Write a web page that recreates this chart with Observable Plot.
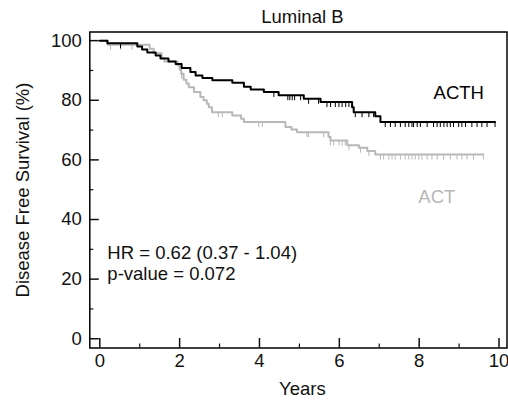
<!DOCTYPE html>
<html><head><meta charset="utf-8">
<script src="https://cdn.jsdelivr.net/npm/d3@7"></script>
<script src="https://cdn.jsdelivr.net/npm/@observablehq/plot@0.6"></script>
<style>body{margin:0;background:#fff;} svg{display:block}</style>
</head><body><div id="chart"></div>
<script>
const title = "Luminal B";
const xLabel = "Years";
const yLabel = "Disease Free Survival (%)";
const xTicks = [0, 2, 4, 6, 8, 10];
const xMinor = [1, 3, 5, 7, 9];
const yTicks = [0, 20, 40, 60, 80, 100];
const yMinor = [10, 30, 50, 70, 90];
const groups = ["ACTH", "ACT"];
const hrText = "HR = 0.62 (0.37 - 1.04)";
const pText = "p-value = 0.072";

// Kaplan-Meier steps (event times, survival % after the event)
const acthTimes = [0, 0.19, 0.94, 1.06, 1.19, 1.40, 1.52, 1.72, 1.90, 2.05, 2.27, 2.40, 2.57, 2.82, 3.32, 3.61, 3.78, 4.11, 4.48, 5.11, 5.53, 6.32, 6.36, 6.90, 7.03];
const acthSurv  = [100, 99.1, 98.0, 97.0, 96.0, 95.0, 94.0, 93.0, 92.2, 90.8, 89.5, 88.3, 87.5, 86.7, 85.9, 84.5, 83.6, 82.8, 81.7, 80.5, 79.4, 77.7, 76.0, 74.6, 72.7];
const acthEnd = 9.9;
const acthCensor = [0.52, 4.36, 4.71, 4.76, 4.82, 4.88, 5.03, 5.23, 5.48, 5.69, 5.78, 5.90, 5.99, 6.07, 6.16, 6.24, 6.40, 6.57, 6.74, 6.86, 7.15, 7.28, 7.40, 7.53, 7.65, 7.74, 7.82, 7.86, 7.95, 8.03, 8.20, 8.36, 8.45, 8.53, 8.62, 8.70, 8.78, 8.86, 8.99, 9.07, 9.16, 9.32, 9.45, 9.57, 9.70, 9.90];

const actTimes = [0, 0.20, 1.25, 1.35, 1.55, 1.62, 1.95, 2.00, 2.04, 2.10, 2.17, 2.23, 2.36, 2.52, 2.60, 2.68, 2.73, 2.81, 3.32, 3.54, 3.61, 4.65, 4.80, 4.94, 5.73, 5.78, 6.20, 6.49, 6.70, 6.90];
const actSurv  = [100, 98.6, 97.3, 95.8, 94.2, 93.0, 91.7, 90.2, 88.9, 86.9, 85.6, 84.4, 82.8, 81.1, 80.0, 78.8, 77.7, 76.0, 74.9, 73.8, 72.7, 71.0, 70.2, 69.3, 67.7, 66.5, 64.9, 64.1, 63.0, 61.8];
const actEnd = 9.61;
const actCensor = [0.27, 0.52, 0.81, 2.05, 2.97, 3.07, 3.98, 4.07, 5.19, 5.23, 5.61, 5.78, 5.86, 5.99, 6.07, 6.15, 6.24, 6.53, 6.74, 7.03, 7.11, 7.24, 7.32, 7.40, 7.53, 7.65, 7.74, 7.82, 7.90, 7.99, 8.07, 8.20, 8.32, 8.45, 8.61, 8.78, 8.95, 9.07, 9.20, 9.36, 9.61];

const colors = {ACTH: "#000000", ACT: "#b8b8b8"};

function stepLine(times, surv, end, g) {
  const pts = times.map((t, i) => ({t, s: surv[i], g}));
  pts.push({t: end, s: surv[surv.length - 1], g});
  return pts;
}
function survAt(times, surv, t) {
  let s = surv[0];
  for (let i = 0; i < times.length; i++) if (times[i] <= t) s = surv[i];
  return s;
}
const lineACTH = stepLine(acthTimes, acthSurv, acthEnd, "ACTH");
const lineACT = stepLine(actTimes, actSurv, actEnd, "ACT");
const censACTH = acthCensor.map(t => ({t, s: survAt(acthTimes, acthSurv, t)}));
const censACT = actCensor.map(t => ({t, s: survAt(actTimes, actSurv, t)}));

const tickDown = {draw(ctx) { ctx.moveTo(0, 0); ctx.lineTo(0, 5); }};

const plot = Plot.plot({
  width: 508,
  height: 402,
  marginLeft: 89.3,
  marginRight: 1.5,
  marginTop: 31.5,
  marginBottom: 54.5,
  style: {fontFamily: "'Liberation Sans', Arial, sans-serif", fontSize: "18.5px", color: "#111", background: "#fff"},
  x: {domain: [-0.25, 10.2], axis: null},
  y: {domain: [-3.1, 102.9], axis: null},
  marks: [
    Plot.axisX(xTicks, {anchor: "bottom", tickSize: -9.5, tickPadding: 15, strokeWidth: 1.5, label: null}),
    Plot.axisX(xMinor, {anchor: "bottom", tickSize: -4, text: null, strokeWidth: 1.2, label: null}),
    Plot.axisY(yTicks, {anchor: "left", tickSize: -9.5, tickPadding: 17.5, strokeWidth: 1.5, label: null}),
    Plot.axisY(yMinor, {anchor: "left", tickSize: -4, text: null, strokeWidth: 1.2, label: null}),
    Plot.line(lineACT, {x: "t", y: "s", curve: "step-after", stroke: colors.ACT, strokeWidth: 2}),
    Plot.dot(censACT, {x: "t", y: "s", symbol: tickDown, stroke: colors.ACT, fill: "none", strokeWidth: 1}),
    Plot.line(lineACTH, {x: "t", y: "s", curve: "step-after", stroke: colors.ACTH, strokeWidth: 2}),
    Plot.dot(censACTH, {x: "t", y: "s", symbol: tickDown, stroke: colors.ACTH, fill: "none", strokeWidth: 1}),
    Plot.frame({stroke: "#000", strokeWidth: 1.5}),
    Plot.text([groups[0]], {x: 8.36, y: 80.5, text: d => d, textAnchor: "start", lineAnchor: "bottom", fill: colors.ACTH}),
    Plot.text([groups[1]], {x: 7.98, y: 45.7, text: d => d, textAnchor: "start", lineAnchor: "bottom", fill: colors.ACT}),
    Plot.text([hrText], {x: 0.19, y: 26.9, text: d => d, textAnchor: "start", lineAnchor: "bottom", fill: "#111"}),
    Plot.text([pText], {x: 0.19, y: 19.6, text: d => d, textAnchor: "start", lineAnchor: "bottom", fill: "#111"}),
    Plot.text([title], {frameAnchor: "top", dy: -15, dx: 4, lineAnchor: "middle", text: d => d, fill: "#111"}),
    Plot.text([xLabel], {frameAnchor: "bottom", dy: 41, dx: 4, lineAnchor: "middle", text: d => d, fill: "#111"}),
    Plot.text([yLabel], {frameAnchor: "left", dx: -67, rotate: -90, textAnchor: "middle", lineAnchor: "middle", text: d => d, fill: "#111"})
  ]
});
document.getElementById("chart").appendChild(plot);
</script>
</body></html>
